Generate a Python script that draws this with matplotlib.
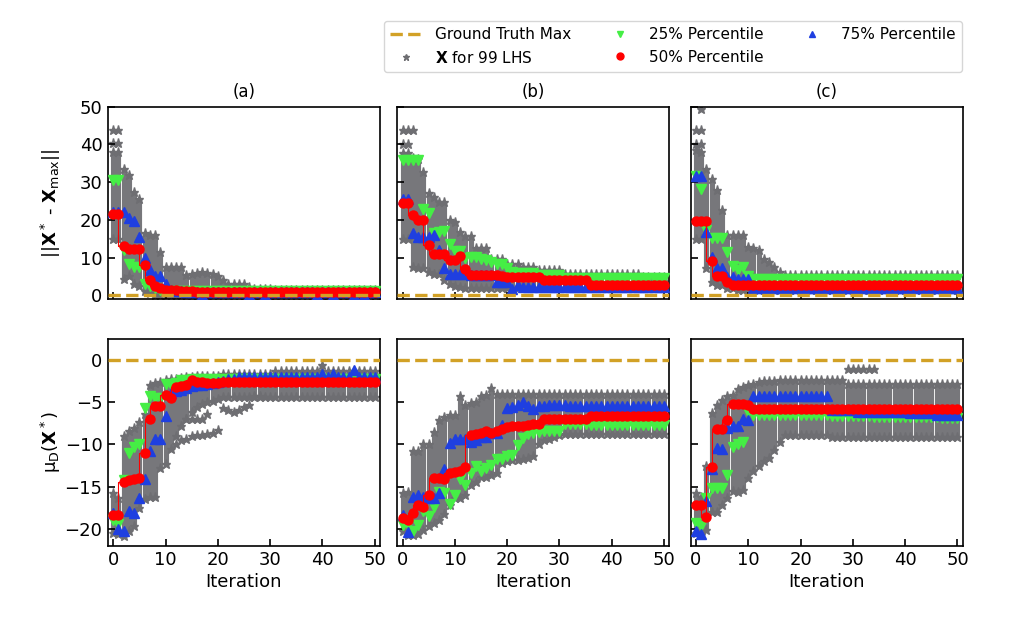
import matplotlib
matplotlib.use("Agg")
import matplotlib.pyplot as plt
from matplotlib.lines import Line2D
import numpy as np

iters = np.arange(51)

# ---------------- panel (a), top: ||X* - X_max|| ----------------
a_top_p25 = [30.5, 30.5, 12.0, 8.4, 7.6, 7.6, 3.1, 2.5, 1.8, 1.4] + [1.2] * 41
a_top_p50 = [21.5, 21.5, 13.0, 12.3, 12.2, 12.3, 8.1, 4.0, 2.5, 2.0, 1.4, 1.3, 1.3, 1.2, 1.1, 1.0] + [0.8] * 35
a_top_p75 = ([22.0, 22.0, 22.1, 20.4, 19.6, 15.5, 9.9, 6.8, 5.0, 5.0, 3.1, 1.3, 1.1, 1.0, 0.9, 0.9, 0.9,
              0.1, 0.9, 0.9, 0.9, 0.9, 0.9, 0.9, 0.9, 0.9, 0.1, 0.9, 0.9, 0.1, 0.9, 0.9, 0.9, 0.9, 0.9,
              0.9, 0.9, 0.9, 0.9, 0.1, 0.9, 0.9, 0.1, 0.9, 0.9, 0.9, 0.1, 0.9, 0.1, 0.9, 0.9])
a_top_hi = ([38.0, 38.0, 33.5, 32.0, 27.4, 25.5, 16.5, 16.0, 16.0, 11.5, 7.5, 7.5, 7.5, 7.5, 5.3, 5.6, 6.0,
             6.2, 6.0, 5.5, 5.0, 4.0, 3.1, 3.1, 3.1, 3.1, 2.2, 1.7, 1.7, 1.7, 1.7] + [1.5] * 20)
a_top_lo = [15.0, 15.0, 4.2, 5.0, 3.0, 2.5, 1.0, 0.5] + [0.1] * 43
a_top_out_x = [0, 1, 0, 1]
a_top_out_y = [43.8, 43.8, 40.3, 40.3]

# ---------------- panel (a), bottom: mu_D(X*) ----------------
a_bot_p25 = ([-19.0, -19.4, -14.2, -11.0, -10.3, -10.0, -5.7, -4.3, -4.5, -4.5, -2.8, -3.0, -2.7, -2.4,
              -2.4, -2.3] + [-2.2] * 35)
a_bot_p50 = ([-18.4, -18.4, -14.5, -14.2, -14.1, -14.0, -11.0, -7.0, -5.4, -5.4, -4.1, -4.5, -3.2, -3.1,
              -3.0, -2.4, -2.6, -2.6, -2.7, -2.7, -2.7] + [-2.6] * 30)
a_bot_p75 = ([-18.1, -20.0, -20.3, -17.9, -18.1, -16.4, -14.1, -10.8, -9.3, -9.3, -6.6, -3.9, -3.7, -3.5,
              -3.3, -3.1, -3.0, -2.9, -2.8, -2.7, -2.6, -2.5, -2.3, -2.2] + [-2.0] * 16
             + [-1.6, -2.0, -1.7, -2.0, -2.0, -2.0, -1.2, -2.0, -2.0, -2.0, -2.0])
a_bot_hi = ([-15.8, -16.3, -9.0, -8.4, -8.0, -7.3, -6.4, -2.9, -2.7, -2.6, -2.4, -2.3, -2.2, -2.1, -2.0,
             -2.0, -1.9, -1.9, -1.9, -1.9, -1.9] + [-1.6] * 10 + [-1.3] * 20)
a_bot_lo = ([-20.5, -20.6, -20.8, -20.3, -19.7, -17.5, -16.5, -16.2, -16.2, -12.8, -12.3, -10.5, -9.0,
             -7.8, -7.0, -6.2, -5.6, -5.2, -5.0, -4.8, -4.6] + [-4.4] * 30)
a_bot_out_x = ([12, 13, 14, 15, 16, 17, 18, 19, 20, 14, 15, 16, 17, 18, 21, 22, 23, 24, 25, 26, 27, 28, 40])
a_bot_out_y = ([-9.9, -9.5, -9.3, -9.0, -8.9, -8.9, -8.8, -8.7, -8.3, -7.0, -7.0, -7.0, -7.0, -6.4,
                -5.7, -5.9, -6.1, -5.9, -5.6, -5.3, -4.3, -4.3, -0.6])

# ---------------- panel (b), top ----------------
b_top_p25 = ([35.8, 35.8, 35.8, 35.8, 23.0, 21.9, 16.4, 16.8, 17.0, 13.7, 11.7, 11.8, 9.9, 10.2, 10.2, 9.5,
              9.3, 8.8, 8.4, 8.4, 7.3, 6.2, 6.0, 6.0, 6.0, 6.0, 5.3, 5.3, 5.3, 5.3, 5.3] + [4.6] * 20)
b_top_p50 = ([24.5, 24.5, 21.2, 19.9, 19.9, 13.3, 11.0, 11.0, 11.0, 9.4, 9.3, 10.3, 7.0, 5.4, 5.4, 5.4,
              5.4, 5.4, 5.4, 5.0, 4.9, 4.9, 4.9, 4.9, 4.9, 4.9, 4.9] + [4.0] * 9 + [2.8] * 15)
b_top_p75 = ([25.5, 25.5, 16.6, 15.5, 15.5, 15.5, 16.1, 12.0, 7.3, 5.6, 5.6, 5.6, 5.6, 5.3, 5.3, 5.3, 5.3,
              5.3, 3.4, 3.4, 3.4, 1.6, 2.6] + [2.3] * 28)
b_top_hi = ([37.6, 37.6, 36.5, 36.0, 32.7, 27.0, 26.0, 24.8, 24.8, 19.9, 19.5, 16.8, 15.7, 15.7, 12.4,
             12.4, 12.4, 9.7, 9.7, 9.7, 8.4, 8.4, 8.4, 7.5, 7.5, 7.5] + [6.6] * 5 + [5.6] * 15 + [4.9] * 5)
b_top_lo = ([15.0, 15.0, 7.5, 7.1, 7.1, 6.2, 5.7, 5.7, 4.0, 3.0, 2.5, 2.2, 2.0] + [1.8] * 8 + [1.3]
            + [1.8] * 29)
b_top_out_x = [0, 1, 2, 0, 1]
b_top_out_y = [43.8, 43.8, 43.8, 40.2, 40.2]

# ---------------- panel (b), bottom ----------------
b_bot_p25 = ([-19.5, -19.5, -20.2, -19.5, -17.9, -18.5, -17.4, -15.6, -15.8, -17.0, -16.0, -14.1, -14.8,
              -13.4, -12.5, -13.2, -12.8, -12.4, -11.7, -11.7, -11.4, -11.2, -10.1, -9.2, -8.8, -8.7,
              -8.5, -8.4, -8.4, -8.4, -8.4] + [-7.6] * 5 + [-7.7] * 15)
b_bot_p50 = ([-18.7, -19.0, -18.1, -17.2, -17.4, -16.0, -14.0, -14.0, -14.1, -13.4, -13.3, -13.2, -12.7,
              -8.9, -8.8, -8.7, -8.4, -8.6, -8.4, -8.2, -7.9, -7.8, -7.8, -7.8, -7.7, -7.6, -7.6]
             + [-7.0] * 9 + [-6.6] * 15)
b_bot_p75 = ([-18.4, -20.4, -16.2, -16.0, -16.2, -16.4, -16.4, -15.7, -12.9, -9.8, -9.3, -9.3, -9.3,
              -9.7, -9.5, -9.1, -9.1, -8.6, -8.7, -7.7, -5.7, -5.6, -5.3, -5.0, -5.5, -5.8, -5.5, -5.5,
              -5.3, -5.3, -5.3, -5.3] + [-5.4] * 19)
b_bot_hi = ([-15.8, -15.6, -10.8, -10.8, -9.9, -9.9, -8.5, -7.1, -6.8, -6.5, -6.5, -4.3, -5.3, -5.1,
             -5.0, -4.2, -4.1, -3.3] + [-4.0] * 33)
b_bot_lo = ([-20.3, -20.7, -20.7, -20.6, -20.1, -19.7, -19.3, -18.9, -18.3, -17.2, -16.4, -16.4, -16.0,
             -14.8, -14.4, -13.8, -13.8, -13.6, -13.4, -12.2, -12.0, -11.9, -11.8, -11.7, -11.6, -11.4,
             -10.0, -9.5, -9.3, -9.1, -8.9] + [-8.8] * 20)
b_bot_out_x = []
b_bot_out_y = []

# ---------------- panel (c), top ----------------
c_top_p25 = [31.5, 28.3, 17.4, 15.3, 15.3, 15.3, 11.5, 7.8, 6.6, 7.4, 5.0] + [4.2] * 21 + [4.4] * 19
c_top_p50 = [19.6, 19.6, 19.6, 9.0, 5.2, 5.2, 3.4, 2.8, 2.7, 2.7, 2.7] + [2.8] * 40
c_top_p75 = [31.7, 31.7, 16.8, 10.2, 7.1, 7.1, 4.9, 4.9, 4.4, 4.2, 4.2] + [1.8] * 40
c_top_hi = ([38.5, 38.0, 33.6, 30.9, 27.9, 22.5, 15.9, 15.9, 15.9, 15.9, 12.8, 12.4, 11.9, 9.7, 8.8, 7.5,
             6.2] + [5.3] * 34)
c_top_lo = [15.0, 15.0, 7.1, 3.5, 2.7, 2.7, 1.8, 1.8, 1.3, 1.3] + [1.3] * 41
c_top_out_x = [0, 1, 0, 1, 1]
c_top_out_y = [43.8, 43.8, 40.2, 40.2, 49.5]

# ---------------- panel (c), bottom ----------------
c_bot_p25 = ([-19.3, -19.7, -16.4, -15.2, -15.2, -15.2, -13.6, -10.3, -9.9, -9.7, -6.2] + [-6.5] * 15
             + [-6.6] * 8 + [-6.7] * 8 + [-6.8] * 5 + [-6.9] * 4)
c_bot_p50 = [-17.2, -17.2, -18.6, -12.7, -8.2, -8.2, -7.1, -5.2, -5.2, -5.2, -5.3] + [-5.8] * 40
c_bot_p75 = ([-20.3, -20.6, -16.7, -12.9, -10.4, -10.5, -8.1, -7.8, -7.8, -7.0, -7.1] + [-4.3] * 15
             + [-5.9] * 5 + [-6.1] * 10 + [-6.3] * 5 + [-6.5] * 5)
c_bot_hi = ([-15.8, -16.2, -12.5, -6.3, -5.3, -4.7, -4.3, -4.1, -3.4, -3.2, -3.0, -2.8, -2.6, -2.5, -2.5,
             -2.5, -2.4] + [-2.4] * 12 + [-2.8] * 22)
c_bot_lo = ([-20.5, -20.7, -20.1, -18.0, -18.0, -17.2, -16.3, -15.5, -15.6, -15.4, -14.0, -13.2, -12.6,
             -12.0, -11.6, -10.7, -9.7] + [-8.9] * 9 + [-9.1] * 25)
c_bot_out_x = [29, 30, 31, 32, 33, 34]
c_bot_out_y = [-1.1, -1.1, -1.1, -1.1, -1.1, -1.1]

ground_truth = 0.0
titles = ["(a)", "(b)", "(c)"]
legend_labels = ["Ground Truth Max", r"$\mathbf{X}$ for 99 LHS", "25% Percentile",
                 "50% Percentile", "75% Percentile"]

GRAY = "#6e6e72"
GRAY_FILL = "#77777b"
GREEN = "#45ee45"
BLUE = "#1f3fe0"
RED = "#ff0000"
GOLD = "#d2a126"

fig = plt.figure(figsize=(10.2, 6.37), dpi=100)

lefts = [108 / 1020, 397.3 / 1020, 690.7 / 1020]
width = 272 / 1020
top_row = (1 - 299 / 637, 192.3 / 637)
bot_row = (1 - 545.7 / 637, 206.7 / 637)

panels = [
    [(a_top_lo, a_top_hi, a_top_p25, a_top_p50, a_top_p75, a_top_out_x, a_top_out_y),
     (b_top_lo, b_top_hi, b_top_p25, b_top_p50, b_top_p75, b_top_out_x, b_top_out_y),
     (c_top_lo, c_top_hi, c_top_p25, c_top_p50, c_top_p75, c_top_out_x, c_top_out_y)],
    [(a_bot_lo, a_bot_hi, a_bot_p25, a_bot_p50, a_bot_p75, a_bot_out_x, a_bot_out_y),
     (b_bot_lo, b_bot_hi, b_bot_p25, b_bot_p50, b_bot_p75, b_bot_out_x, b_bot_out_y),
     (c_bot_lo, c_bot_hi, c_bot_p25, c_bot_p50, c_bot_p75, c_bot_out_x, c_bot_out_y)],
]


def draw(ax, lo, hi, p25, p50, p75, ox, oy):
    ax.vlines(iters, lo, hi, colors=GRAY_FILL, lw=3.7, zorder=1)
    ax.plot(iters, lo, ls="none", marker="*", ms=6.5, color=GRAY, zorder=1.2)
    ax.plot(iters, hi, ls="none", marker="*", ms=6.5, color=GRAY, zorder=1.2)
    if len(ox):
        ax.plot(ox, oy, ls="none", marker="*", ms=6.5, color=GRAY, zorder=1.2)
    ax.plot(iters, p25, ls="none", marker="v", ms=6.5, color=GREEN, zorder=3)
    ax.plot(iters, p75, ls="none", marker="^", ms=6.5, color=BLUE, zorder=3.2)
    ax.plot(iters, p50, drawstyle="steps-pre", color=RED, lw=0.8, zorder=3.4)
    ax.plot(iters, p50, ls="none", marker="o", ms=6.5, color=RED, zorder=3.5)
    ax.axhline(ground_truth, ls="--", color=GOLD, lw=2.4, zorder=5)


axes = []
for r in range(2):
    row = []
    for c in range(3):
        b, h = top_row if r == 0 else bot_row
        ax = fig.add_axes([lefts[c], b, width, h])
        draw(ax, *panels[r][c])
        ax.set_xlim(-1, 51)
        ax.set_xticks([0, 10, 20, 30, 40, 50])
        if r == 0:
            ax.set_ylim(-1, 50)
            ax.set_yticks([0, 10, 20, 30, 40, 50])
            ax.set_title(titles[c], fontsize=12, pad=7)
            ax.tick_params(labelbottom=False)
        else:
            ax.set_ylim(-22, 2.5)
            ax.set_yticks([-20, -15, -10, -5, 0])
            ax.set_xlabel("Iteration", fontsize=13, labelpad=3)
        if c > 0:
            ax.tick_params(labelleft=False)
        ax.tick_params(direction="in", length=5, width=1.2, labelsize=13, pad=4)
        for s in ax.spines.values():
            s.set_linewidth(1.2)
        row.append(ax)
    axes.append(row)

axes[0][0].set_ylabel(r"||$\mathbf{X}^*$ - $\mathbf{X}_{\mathrm{max}}$||", fontsize=13)
axes[1][0].set_ylabel(r"μ$_{\mathrm{D}}$($\mathbf{X}^*$)", fontsize=13)
axes[0][0].yaxis.set_label_coords(-0.165, 0.5)
axes[1][0].yaxis.set_label_coords(-0.165, 0.5)

handles = [
    Line2D([], [], ls="--", color=GOLD, lw=2.4),
    Line2D([], [], ls="none", marker="*", ms=5, color=GRAY),
    Line2D([], [], ls="none", marker="v", ms=5, color=GREEN),
    Line2D([], [], ls="none", marker="o", ms=5, color=RED),
    Line2D([], [], ls="none", marker="^", ms=5, color=BLUE),
]
fig.legend(handles, legend_labels, ncol=3, loc="upper right", bbox_to_anchor=(962 / 1020, 1 - 21 / 637),
           fontsize=11, frameon=True, borderaxespad=0, columnspacing=2.2, handletextpad=0.9)

fig.savefig("out.png", dpi=100)
